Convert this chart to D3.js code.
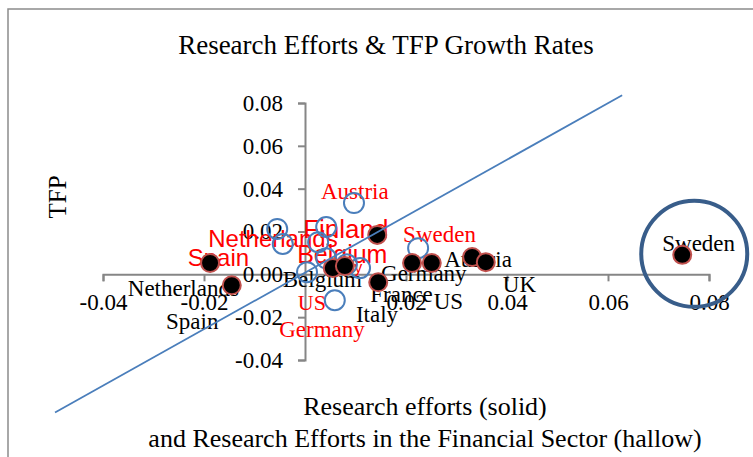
<!DOCTYPE html>
<html>
<head>
<meta charset="utf-8">
<script src="https://cdn.jsdelivr.net/npm/d3@7"></script>
<style>
  body { margin: 0; background: #fff; }
  svg { display: block; }
  text { font-family: "Liberation Serif", "Times New Roman", serif; }
</style>
</head>
<body>
<svg id="chart" width="753" height="457"></svg>
<script>
// research efforts (solid markers)
const solidNames = ["Netherlands", "Spain", "Belgium", "Italy", "France", "Finland", "Germany", "US", "Austria", "UK", "Sweden"];
const solidX = [-0.0145, -0.0188, 0.0055, 0.0079, 0.0145, 0.0143, 0.0212, 0.0251, 0.0331, 0.0358, 0.0747];
const solidY = [-0.0051, 0.0053, 0.0029, 0.0039, -0.0037, 0.0184, 0.0053, 0.0053, 0.0081, 0.0057, 0.0091];

// research efforts in the financial sector (hollow markers)
const hollowNames = ["Austria", "Netherlands", "Spain", "Finland", "Belgium", "Italy", "France", "Germany", "US", "Sweden", "UK"];
const hollowX = [0.0097, -0.0055, -0.0044, 0.0042, 0.0026, 0.0083, 0.0109, 0.0042, 0.0059, 0.0224, 0.0004];
const hollowY = [0.0333, 0.0212, 0.0142, 0.0221, 0.0150, 0.0047, 0.0029, 0.0075, -0.0121, 0.0122, 0.0010];

// linear trend line end points
const trendX = [-0.0495, 0.0628];
const trendY = [-0.0645, 0.0836];

const xTicks = [-0.04, -0.02, 0.02, 0.04, 0.06, 0.08];
const yTicks = [-0.04, -0.02, 0.00, 0.02, 0.04, 0.06, 0.08];

// label placement (pixel offsets from the marker)
const solidLabelPos = {
  Netherlands: [-104, 11], Spain: [-44, 66], Belgium: [-50, 19], Italy: [11, 56],
  France: [-8, 20], Germany: [-31, 18], US: [2, 46], Austria: [-28, 10],
  UK: [17, 30], Sweden: [-20, -4]
};
const hollowLabelPos = {
  Austria: [-33, -4, "serif", 23], Finland: [-23, 11, "sans", 26],
  Netherlands: [-69, 18, "sans", 24], Spain: [-95, 22, "sans", 24],
  Belgium: [-21, 21, "sans", 25], Italy: [-14, 9, "sans", 16],
  US: [-37, 10, "serif", 22], Germany: [-47, 79, "serif", 23],
  Sweden: [-15, -6, "serif", 23]
};

const svg = d3.select("#chart");

const x = d3.scaleLinear().domain([-0.04, 0.08]).range([103, 709]);
const y = d3.scaleLinear().domain([-0.04, 0.08]).range([360, 103]);

// outer frame
svg.append("rect")
  .attr("x", 8).attr("y", 9)
  .attr("width", 770).attr("height", 470)
  .attr("fill", "none")
  .attr("stroke", "#8c8c8c")
  .attr("stroke-width", 1.5);

svg.append("text")
  .attr("x", 386).attr("y", 54)
  .attr("text-anchor", "middle")
  .attr("font-size", 27)
  .text("Research Efforts & TFP Growth Rates");

svg.append("text")
  .attr("transform", "translate(66,197) rotate(-90)")
  .attr("text-anchor", "middle")
  .attr("font-size", 25)
  .text("TFP");

svg.append("text")
  .attr("x", 425).attr("y", 415)
  .attr("text-anchor", "middle")
  .attr("font-size", 26)
  .text("Research efforts (solid)");

svg.append("text")
  .attr("x", 425).attr("y", 447)
  .attr("text-anchor", "middle")
  .attr("font-size", 26)
  .text("and Research Efforts in the Financial Sector (hallow)");

// axes crossing at the origin
const fmt = d => d.toFixed(2);

const xAxis = d3.axisBottom(x)
  .tickValues([-0.04, -0.02, 0, 0.02, 0.04, 0.06, 0.08])
  .tickSize(7)
  .tickFormat(d => xTicks.includes(d) ? fmt(d) : "");

const gx = svg.append("g")
  .attr("transform", `translate(0,${y(0)})`)
  .call(xAxis);

const yAxis = d3.axisLeft(y)
  .tickValues(yTicks)
  .tickSize(7)
  .tickPadding(15)
  .tickFormat(fmt);

const gy = svg.append("g")
  .attr("transform", `translate(${x(0)},0)`)
  .call(yAxis);

[gx, gy].forEach(g => {
  g.select(".domain").attr("stroke", "#868686").attr("stroke-width", 2);
  g.selectAll(".tick line").attr("stroke", "#868686").attr("stroke-width", 2);
  g.selectAll(".tick text")
    .attr("fill", "#000")
    .attr("font-size", 23);
});
gx.selectAll(".tick text").attr("dy", 0).attr("y", 36);

const hollow = hollowNames.map((n, i) => ({ name: n, x: hollowX[i], y: hollowY[i] }));
const solid = solidNames.map((n, i) => ({ name: n, x: solidX[i], y: solidY[i] }));

// red labels of hollow markers
svg.append("g")
  .selectAll("text")
  .data(hollow.filter(d => hollowLabelPos[d.name]))
  .enter()
  .append("text")
  .attr("x", d => x(d.x) + hollowLabelPos[d.name][0])
  .attr("y", d => y(d.y) + hollowLabelPos[d.name][1])
  .attr("fill", "#ff0000")
  .style("font-family", d => hollowLabelPos[d.name][2] === "sans" ? "'Liberation Sans', Arial, sans-serif" : "'Liberation Serif', serif")
  .attr("font-size", d => hollowLabelPos[d.name][3])
  .text(d => d.name);

// black labels of solid markers
svg.append("g")
  .selectAll("text")
  .data(solid.filter(d => solidLabelPos[d.name]))
  .enter()
  .append("text")
  .attr("x", d => x(d.x) + solidLabelPos[d.name][0])
  .attr("y", d => y(d.y) + solidLabelPos[d.name][1])
  .attr("fill", "#000")
  .attr("font-size", 23)
  .text(d => d.name);

// hollow markers
svg.append("g")
  .selectAll("circle")
  .data(hollow)
  .enter()
  .append("circle")
  .attr("cx", d => x(d.x))
  .attr("cy", d => y(d.y))
  .attr("r", 10)
  .attr("fill", "none")
  .attr("stroke", "#4a7ebb")
  .attr("stroke-width", 2);

// solid markers
svg.append("g")
  .selectAll("circle")
  .data(solid)
  .enter()
  .append("circle")
  .attr("cx", d => x(d.x))
  .attr("cy", d => y(d.y))
  .attr("r", 9)
  .attr("fill", "#000")
  .attr("stroke", "#c0504d")
  .attr("stroke-width", 2);

// trend line
const line = d3.line()
  .x(d => x(d[0]))
  .y(d => y(d[1]));

svg.append("path")
  .datum(trendX.map((v, i) => [v, trendY[i]]))
  .attr("d", line)
  .attr("fill", "none")
  .attr("stroke", "#4a7ebb")
  .attr("stroke-width", 1.8);

// highlight ring around Sweden
const sweden = solid.find(d => d.name === "Sweden");
svg.append("circle")
  .attr("cx", x(sweden.x) + 12)
  .attr("cy", y(sweden.y) - 1)
  .attr("r", 53)
  .attr("fill", "none")
  .attr("stroke", "#385d8a")
  .attr("stroke-width", 4);
</script>
</body>
</html>
